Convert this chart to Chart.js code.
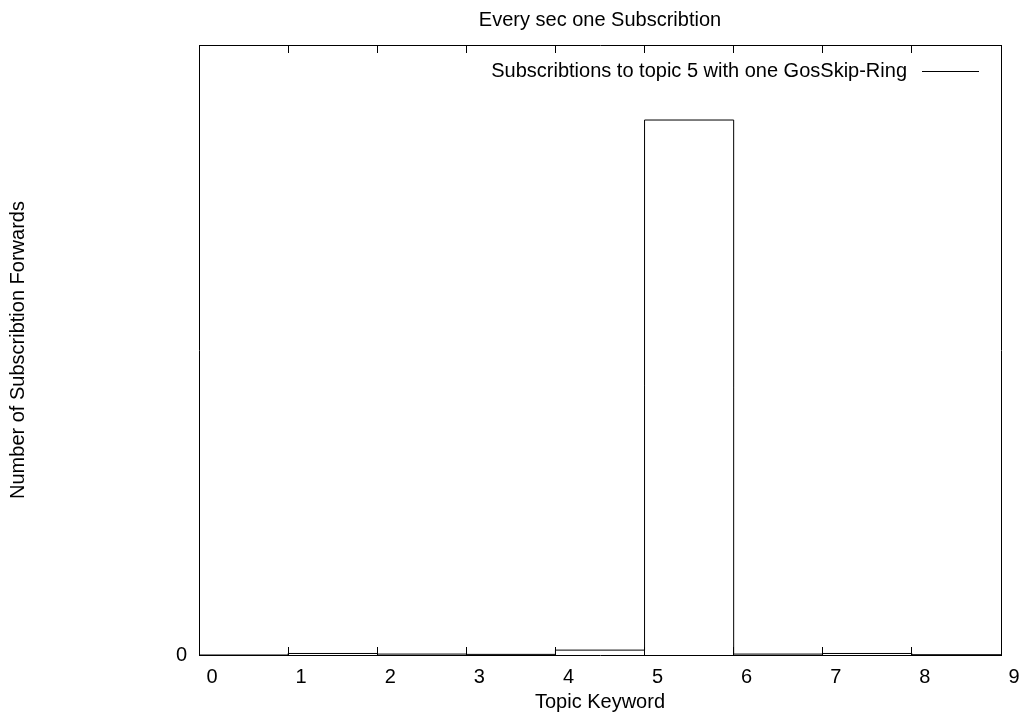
<!DOCTYPE html>
<html>
<head>
<meta charset="utf-8">
<script src="https://cdn.jsdelivr.net/npm/chart.js@4/dist/chart.umd.min.js"></script>
<style>
  html, body { margin: 0; padding: 0; background: #fff; }
  #wrap { width: 1019px; height: 715px; }
</style>
</head>
<body>
<div id="wrap"><canvas id="c" width="1019" height="715"></canvas></div>
<script>
// Texts
const chartTitle = 'Every sec one Subscribtion';
const xTitle = 'Topic Keyword';
const yTitle = 'Number of Subscribtion Forwards';
const seriesLabel = 'Subscribtions to topic 5 with one GosSkip-Ring';

// Subscription forwards counted per topic keyword (bin starts)
const topics = [0, 1, 2, 3, 4, 5, 6, 7, 8];
const forwards = [0, 5, 3, 2, 16, 1754, 3, 5, 1];

// Axis ticks
const xTickValues = [0, 1, 2, 3, 4, 5, 6, 7, 8, 9];
const xTickLabels = ['0', '1', '2', '3', '4', '5', '6', '7', '8', '9'];
const yTickValues = [0];
const yTickLabels = ['0'];
const yMax = 2000;

// Step outline: each bin drawn from its start to the next start, closing at the last bin end
const stepPoints = topics.map((t, i) => ({ x: t, y: forwards[i] }));
stepPoints.push({ x: topics[topics.length - 1] + 1, y: forwards[forwards.length - 1] });

const FONT = { family: '"Liberation Sans", Arial, Helvetica, sans-serif', size: 20 };
Chart.defaults.color = '#000';
Chart.defaults.font.family = FONT.family;
Chart.defaults.font.size = FONT.size;

// Key drawn inside the plot: text on the left, line sample on the right
const keyPlugin = {
  id: 'insideKey',
  afterDraw(chart) {
    const ctx = chart.ctx;
    const ds = chart.data.datasets[0];
    const a = chart.chartArea;
    const lineEnd = a.right - 22;
    const lineStart = lineEnd - 57;
    const y = a.top + 26;
    ctx.save();
    ctx.font = FONT.size + 'px ' + FONT.family;
    ctx.fillStyle = '#000';
    ctx.textAlign = 'right';
    ctx.textBaseline = 'middle';
    ctx.fillText(ds.label, lineStart - 15, y);
    ctx.strokeStyle = ds.borderColor;
    ctx.lineWidth = 1;
    ctx.beginPath();
    ctx.moveTo(lineStart, Math.round(y) + 0.5);
    ctx.lineTo(lineEnd, Math.round(y) + 0.5);
    ctx.stroke();
    ctx.restore();
  }
};

const borderStyle = { display: true, color: '#000', width: 1 };

new Chart(document.getElementById('c'), {
  type: 'line',
  data: {
    datasets: [{
      label: seriesLabel,
      data: stepPoints,
      stepped: 'before',
      borderColor: '#000',
      borderWidth: 1,
      pointRadius: 0,
      fill: false,
      tension: 0
    }]
  },
  options: {
    responsive: false,
    animation: false,
    devicePixelRatio: 1,
    layout: { padding: 0 },
    plugins: {
      legend: { display: false },
      tooltip: { enabled: false },
      title: {
        display: true,
        text: chartTitle,
        fullSize: false,
        font: { size: 20, weight: 'normal' },
        color: '#000',
        padding: { top: 8, bottom: 0 }
      }
    },
    scales: {
      x: {
        type: 'linear',
        position: 'bottom',
        min: 0,
        max: 9,
        afterBuildTicks: (s) => { s.ticks = xTickValues.map(v => ({ value: v })); },
        afterFit: (s) => { s.height = 60; s.paddingLeft = 0; s.paddingRight = 0; },
        ticks: {
          callback: (v) => xTickLabels[xTickValues.indexOf(v)],
          labelOffset: 13,
          padding: 18,
          maxRotation: 0,
          autoSkip: false,
          color: '#000',
          font: { size: 20 }
        },
        grid: { drawOnChartArea: false, drawTicks: true, tickLength: -8, color: '#000', lineWidth: 1 },
        border: borderStyle,
        title: { display: true, text: xTitle, color: '#000', font: { size: 20 }, padding: { top: 0, bottom: 1 } }
      },
      xTop: {
        type: 'linear',
        position: 'top',
        min: 0,
        max: 9,
        afterBuildTicks: (s) => { s.ticks = xTickValues.map(v => ({ value: v })); },
        afterFit: (s) => { s.height = 13; s.paddingLeft = 0; s.paddingRight = 0; },
        ticks: { display: false },
        grid: { drawOnChartArea: false, drawTicks: true, tickLength: -8, color: '#000', lineWidth: 1 },
        border: borderStyle
      },
      y: {
        type: 'linear',
        position: 'left',
        min: 0,
        max: yMax,
        afterBuildTicks: (s) => { s.ticks = yTickValues.map(v => ({ value: v })); },
        afterFit: (s) => { s.width = 199; s.paddingTop = 0; s.paddingBottom = 0; },
        ticks: {
          callback: (v) => yTickLabels[yTickValues.indexOf(v)],
          padding: 12,
          color: '#000',
          font: { size: 20 }
        },
        grid: { display: false, drawTicks: false },
        border: borderStyle,
        title: { display: true, text: yTitle, color: '#000', font: { size: 20 }, padding: { top: 6, bottom: 0 } }
      },
      yRight: {
        type: 'linear',
        position: 'right',
        min: 0,
        max: yMax,
        afterFit: (s) => { s.width = 18; s.paddingTop = 0; s.paddingBottom = 0; },
        ticks: { display: false },
        grid: { display: false, drawTicks: false },
        border: borderStyle
      }
    }
  },
  plugins: [keyPlugin]
});
</script>
</body>
</html>
